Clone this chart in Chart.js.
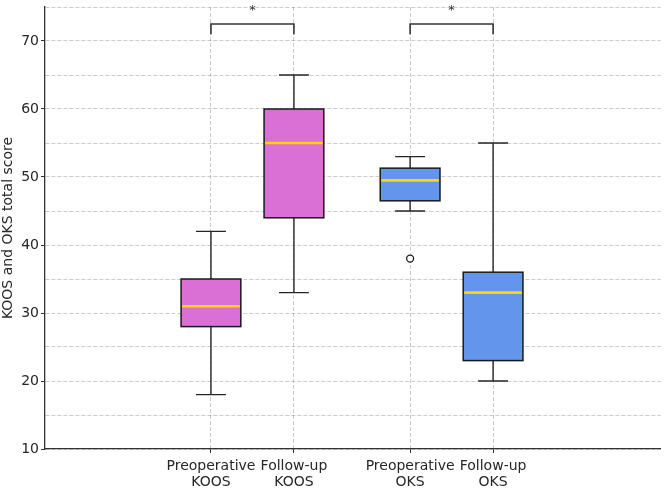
<!DOCTYPE html>
<html>
<head>
<meta charset="utf-8">
<script src="https://cdn.jsdelivr.net/npm/chart.js@4.4.1/dist/chart.umd.min.js"></script>
<style>
  body { margin: 0; background: #fff; }
  #wrap { width: 666px; height: 490px; }
</style>
</head>
<body>
<div id="wrap"><canvas id="myChart" width="666" height="490"></canvas></div>
<script>
// categories and where they sit on the x axis
const categories = [['Preoperative', 'KOOS'], ['Follow-up', 'KOOS'], ['Preoperative', 'OKS'], ['Follow-up', 'OKS']];
const positions = [1, 2, 3.4, 4.4];

// box plot statistics
const whiskerLow = [18, 33, 45, 20];
const q1 = [28, 44, 46.5, 23];
const median = [31, 55, 49.5, 33];
const q3 = [35, 60, 51.3, 36];
const whiskerHigh = [42, 65, 53, 55];
const outliers = [{ x: 3.4, y: 38 }];

const boxColors = ['#DA70D6', '#DA70D6', '#6495ED', '#6495ED'];

// significance brackets
const brackets = [[1, 2], [3.4, 4.4]];
const bracketLow = 71;
const bracketHigh = 72.5;
const starLevel = 73.9;

const yTicks = [10, 20, 30, 40, 50, 60, 70];

const boxWidth = 0.72;
const font = "'DejaVu Sans', sans-serif";

const boxplotPlugin = {
	id: 'boxplot',
	beforeDatasetsDraw(chart) {
		const ctx = chart.ctx;
		const x = chart.scales.x;
		const y = chart.scales.y;
		ctx.save();
		positions.forEach((p, i) => {
			const cx = x.getPixelForValue(p);
			const l = x.getPixelForValue(p - boxWidth / 2);
			const r = x.getPixelForValue(p + boxWidth / 2);
			const capL = x.getPixelForValue(p - boxWidth / 4);
			const capR = x.getPixelForValue(p + boxWidth / 4);
			const yLo = y.getPixelForValue(whiskerLow[i]);
			const yQ1 = y.getPixelForValue(q1[i]);
			const yMed = y.getPixelForValue(median[i]);
			const yQ3 = y.getPixelForValue(q3[i]);
			const yHi = y.getPixelForValue(whiskerHigh[i]);

			// whiskers
			ctx.strokeStyle = '#262626';
			ctx.lineWidth = 1.4;
			ctx.beginPath();
			ctx.moveTo(cx, yQ1); ctx.lineTo(cx, yLo);
			ctx.moveTo(capL, yLo); ctx.lineTo(capR, yLo);
			ctx.moveTo(cx, yQ3); ctx.lineTo(cx, yHi);
			ctx.moveTo(capL, yHi); ctx.lineTo(capR, yHi);
			ctx.stroke();

			// box
			ctx.fillStyle = boxColors[i];
			ctx.fillRect(l, yQ3, r - l, yQ1 - yQ3);
			ctx.strokeStyle = '#1a1a1a';
			ctx.lineWidth = 1.5;
			ctx.strokeRect(l, yQ3, r - l, yQ1 - yQ3);

			// median
			ctx.strokeStyle = '#FFD700';
			ctx.lineWidth = 2.6;
			ctx.beginPath();
			ctx.moveTo(l + 1, yMed); ctx.lineTo(r - 1, yMed);
			ctx.stroke();
		});

		// brackets with stars
		brackets.forEach(([a, b]) => {
			const xa = x.getPixelForValue(a);
			const xb = x.getPixelForValue(b);
			const yl = y.getPixelForValue(bracketLow);
			const yh = y.getPixelForValue(bracketHigh);
			ctx.strokeStyle = '#333333';
			ctx.lineWidth = 1.6;
			ctx.beginPath();
			ctx.moveTo(xa, yl); ctx.lineTo(xa, yh); ctx.lineTo(xb, yh); ctx.lineTo(xb, yl);
			ctx.stroke();
			ctx.fillStyle = '#333333';
			ctx.font = '13px ' + font;
			ctx.textAlign = 'center';
			ctx.textBaseline = 'alphabetic';
			ctx.fillText('*', (xa + xb) / 2, y.getPixelForValue(starLevel));
		});
		ctx.restore();
	}
};

new Chart(document.getElementById('myChart'), {
	type: 'scatter',
	data: {
		datasets: [{
			label: 'Outliers',
			data: outliers,
			pointRadius: 3.5,
			pointBackgroundColor: '#ffffff',
			pointBorderColor: '#1a1a1a',
			pointBorderWidth: 1.3,
		}]
	},
	options: {
		responsive: false,
		animation: false,
		events: [],
		layout: {
			padding: { top: 7, right: 3, left: 0, bottom: 0 }
		},
		plugins: {
			legend: { display: false },
			tooltip: { enabled: false },
		},
		scales: {
			x: {
				type: 'linear',
				min: -1,
				max: 6.42,
				afterBuildTicks: (scale) => {
					scale.ticks = positions.map(v => ({ value: v }));
				},
				afterFit: (scale) => {
					scale.height = 41;
					scale.paddingLeft = 0;
					scale.paddingRight = 0;
				},
				grid: {
					color: 'rgba(0,0,0,0.2)',
					lineWidth: 1,
					tickLength: 4,
					tickColor: '#333333',
				},
				border: { display: true, color: '#333333', width: 1.3, dash: [4, 2] },
				ticks: {
					autoSkip: false,
					maxRotation: 0,
					padding: 6,
					color: '#262626',
					font: { family: font, size: 14, lineHeight: 1.1 },
					callback: (v) => {
						const i = positions.indexOf(v);
						return i >= 0 ? categories[i] : '';
					},
				},
			},
			y: {
				min: 10,
				max: 75,
				afterBuildTicks: (scale) => {
					const t = [];
					for (let v = 10; v <= 75; v += 5) t.push({ value: v });
					scale.ticks = t;
				},
				afterFit: (scale) => {
					scale.width = 45;
					scale.paddingTop = 0;
					scale.paddingBottom = 0;
				},
				grid: {
					color: 'rgba(0,0,0,0.2)',
					lineWidth: 1,
					tickLength: 4,
					tickColor: (c) => yTicks.includes(c.tick && c.tick.value) ? '#333333' : 'rgba(0,0,0,0)',
				},
				border: { display: true, color: '#333333', width: 1.3, dash: [4, 2] },
				title: {
					display: true,
					text: 'KOOS and OKS total score',
					color: '#262626',
					padding: { top: 0, bottom: 2 },
					font: { family: font, size: 14 },
				},
				ticks: {
					padding: 2,
					color: '#262626',
					font: { family: font, size: 14 },
					callback: (v) => yTicks.includes(v) ? String(v) : '',
				},
			}
		}
	},
	plugins: [boxplotPlugin]
});
</script>
</body>
</html>
